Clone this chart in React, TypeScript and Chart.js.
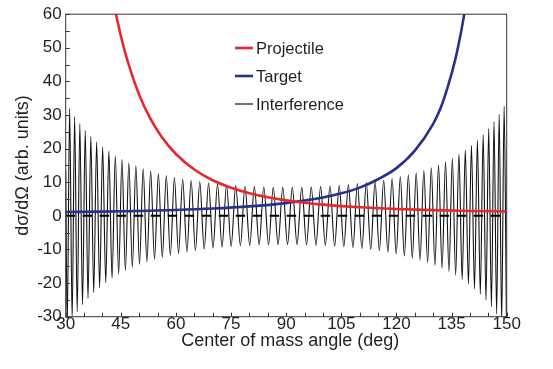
import { useEffect, useRef } from "react";
import { Chart, registerables } from "chart.js";

Chart.register(...registerables);

// Interference term: turning points (angle in deg, value) plus the left end value
const intfAngle = [
  30, 30.41, 31.07, 31.75, 32.43, 33.13, 33.85, 34.57, 35.32, 36.07, 36.84, 37.62, 38.42, 39.23,
  40.05, 40.89, 41.75, 42.61, 43.5, 44.4, 45.31, 46.24, 47.18, 48.13, 49.1, 50.08, 51.08, 52.1,
  53.12, 54.17, 55.22, 56.29, 57.37, 58.47, 59.58, 60.7, 61.83, 62.98, 64.13, 65.3, 66.48, 67.68,
  68.88, 70.09, 71.31, 72.54, 73.77, 75.02, 76.27, 77.53, 78.8, 80.07, 81.34, 82.63, 83.91, 85.2,
  86.49, 87.78, 89.07, 90.36, 91.66, 92.95, 94.24, 95.53, 96.81, 98.1, 99.37, 100.65, 101.91,
  103.18, 104.43, 105.68, 106.92, 108.16, 109.38, 110.6, 111.8, 113.0, 114.18, 115.35, 116.52,
  117.67, 118.81, 119.93, 121.05, 122.15, 123.24, 124.31, 125.37, 126.42, 127.46, 128.48, 129.48,
  130.47, 131.45, 132.41, 133.36, 134.29, 135.21, 136.11, 137.0, 137.88, 138.74, 139.58, 140.41,
  141.23, 142.03, 142.82, 143.6, 144.36, 145.1, 145.84, 146.55, 147.26, 147.95, 148.63, 149.3,
  149.95,
];
const intfValue = [
  13.5, -33.2, 31.9, -30.7, 29.5, -28.5, 27.4, -26.4, 25.4, -24.5, 23.6, -22.8, 22.0, -21.3,
  20.5, -19.8, 19.2, -18.5, 17.9, -17.4, 16.8, -16.3, 15.8, -15.3, 14.9, -14.4, 14.0, -13.7,
  13.3, -12.9, 12.6, -12.3, 12.0, -11.7, 11.4, -11.2, 10.9, -10.7, 10.5, -10.3, 10.1, -9.9,
  9.8, -9.6, 9.5, -9.3, 9.2, -9.1, 9.0, -8.9, 8.8, -8.8, 8.7, -8.6, 8.6, -8.6,
  8.5, -8.5, 8.5, -8.5, 8.5, -8.5, 8.5, -8.6, 8.6, -8.7, 8.7, -8.8, 8.9,
  -9.0, 9.1, -9.2, 9.3, -9.4, 9.6, -9.7, 9.9, -10.0, 10.2, -10.4, 10.6,
  -10.8, 11.1, -11.3, 11.6, -11.9, 12.2, -12.5, 12.8, -13.1, 13.5, -13.9, 14.3,
  -14.7, 15.1, -15.6, 16.1, -16.6, 17.1, -17.7, 18.3, -18.9, 19.5, -20.2, 20.9,
  -21.7, 22.5, -23.3, 24.1, -25.0, 26.0, -27.0, 28.0, -29.1, 30.2, -31.4, 32.6,
  -33.9,
];

// Projectile cross section
const projAngle = [42, 43, 44, 45, 47, 50, 53, 56, 60, 65, 70, 75, 80, 85, 90, 95, 100, 105, 110, 120, 130, 140, 150];
const projValue = [69.7, 63.7, 58.4, 53.6, 45.5, 36.0, 29.0, 23.7, 18.4, 13.8, 10.6, 8.37, 6.74, 5.52, 4.6, 3.89, 3.34, 2.9, 2.55, 2.04, 1.7, 1.47, 1.32];

// Target cross section
const targAngle = [30, 40, 50, 60, 70, 80, 90, 95, 100, 105, 110, 115, 120, 125, 130, 132, 134, 136, 137, 138, 139];
const targValue = [1.15, 1.27, 1.46, 1.74, 2.17, 2.82, 3.8, 4.55, 5.45, 6.7, 8.4, 10.9, 14.2, 19.4, 27.4, 32, 38.5, 46.5, 51.5, 57.2, 63.5];

// Zero reference line
const zeroAngle = [30, 150];
const zeroValue = [0, 0];

const seriesNames = ["Projectile", "Target", "Interference"];
const xRange = [30, 150];
const yRange = [-30, 60];
const xLabelStep = 15;
const yLabelStep = 10;
const minorStep = 5;

const FONT = '"Liberation Sans", Arial, Helvetica, sans-serif';
const INK = "#231f20";
const RED = "#e8262b";
const BLUE = "#28308c";

const toPoints = (xs: number[], ys: number[]) => xs.map((x, i) => ({ x, y: ys[i] }));

const decorations = {
  id: "decorations",
  afterDraw(chart: any) {
    const { ctx, chartArea: a, scales } = chart;
    const sx = scales.x;
    const sy = scales.y;
    ctx.save();

    // frame
    ctx.strokeStyle = "#333";
    ctx.lineWidth = 1;
    ctx.strokeRect(a.left, a.top, a.right - a.left, a.bottom - a.top);

    // inward ticks on the left and bottom axes
    ctx.beginPath();
    for (let v = sy.min; v <= sy.max + 1e-9; v += minorStep) {
      const py = Math.round(sy.getPixelForValue(v)) + 0.5;
      ctx.moveTo(a.left, py);
      ctx.lineTo(a.left + 4, py);
    }
    for (let v = sx.min; v <= sx.max + 1e-9; v += minorStep) {
      const px = Math.round(sx.getPixelForValue(v)) + 0.5;
      ctx.moveTo(px, a.bottom);
      ctx.lineTo(px, a.bottom - 4);
    }
    ctx.stroke();

    // axis titles
    ctx.fillStyle = INK;
    ctx.font = `18px ${FONT}`;
    ctx.textAlign = "center";
    ctx.textBaseline = "alphabetic";
    ctx.fillText("Center of mass angle (deg)", (a.left + a.right) / 2 + 4, 346);
    ctx.save();
    ctx.translate(28, (a.top + a.bottom) / 2);
    ctx.rotate(-Math.PI / 2);
    ctx.fillText("dσ/dΩ (arb. units)", 0, 0);
    ctx.restore();

    // legend
    ctx.font = `16.5px ${FONT}`;
    ctx.textAlign = "left";
    const rows = chart.data.datasets.filter((d: any) => seriesNames.includes(d.label));
    rows.sort((p: any, q: any) => seriesNames.indexOf(p.label) - seriesNames.indexOf(q.label));
    rows.forEach((d: any, i: number) => {
      const base = 54 + i * 28;
      const mid = base - 6;
      ctx.strokeStyle = d.borderColor;
      ctx.lineWidth = d.label === "Interference" ? 1.2 : 2.6;
      ctx.beginPath();
      ctx.moveTo(235, mid);
      ctx.lineTo(253, mid);
      ctx.stroke();
      ctx.fillStyle = INK;
      ctx.fillText(d.label, 256, base);
    });

    ctx.restore();
  },
};

export default function App() {
  const ref = useRef<HTMLCanvasElement | null>(null);

  useEffect(() => {
    if (!ref.current) return;
    const chart = new Chart(ref.current, {
      type: "line",
      data: {
        datasets: [
          {
            label: seriesNames[0],
            data: toPoints(projAngle, projValue),
            borderColor: RED,
            borderWidth: 2.6,
            pointRadius: 0,
            cubicInterpolationMode: "monotone",
          },
          {
            label: seriesNames[1],
            data: toPoints(targAngle, targValue),
            borderColor: BLUE,
            borderWidth: 2.6,
            pointRadius: 0,
            cubicInterpolationMode: "monotone",
          },
          {
            label: "zero",
            data: toPoints(zeroAngle, zeroValue),
            borderColor: "#000",
            borderWidth: 2,
            borderDash: [9.5, 7.5],
            pointRadius: 0,
          },
          {
            label: seriesNames[2],
            data: toPoints(intfAngle, intfValue),
            borderColor: "#111",
            borderWidth: 1.1,
            pointRadius: 0,
            cubicInterpolationMode: "monotone",
          },
        ],
      },
      options: {
        responsive: false,
        animation: false,
        events: [],
        layout: { padding: { left: 0, top: 13.3, right: 46.3, bottom: 0 } },
        plugins: { legend: { display: false }, tooltip: { enabled: false } },
        scales: {
          x: {
            type: "linear",
            min: xRange[0],
            max: xRange[1],
            afterFit: (s: any) => {
              s.height = 52.3;
            },
            grid: { display: false, drawTicks: false },
            border: { display: false },
            ticks: {
              stepSize: xLabelStep,
              padding: -3,
              maxRotation: 0,
              autoSkip: false,
              color: INK,
              font: { family: FONT, size: 17 },
            },
          },
          y: {
            type: "linear",
            min: yRange[0],
            max: yRange[1],
            afterFit: (s: any) => {
              s.width = 65.7;
            },
            grid: { display: false, drawTicks: false },
            border: { display: false },
            ticks: {
              stepSize: yLabelStep,
              padding: 4,
              color: INK,
              font: { family: FONT, size: 17 },
            },
          },
        },
      },
      plugins: [decorations],
    });
    return () => chart.destroy();
  }, []);

  return (
    <div style={{ position: "fixed", left: 0, top: 0, width: 553, height: 369, background: "#fff" }}>
      <canvas ref={ref} width={553} height={369} style={{ display: "block" }} />
    </div>
  );
}
